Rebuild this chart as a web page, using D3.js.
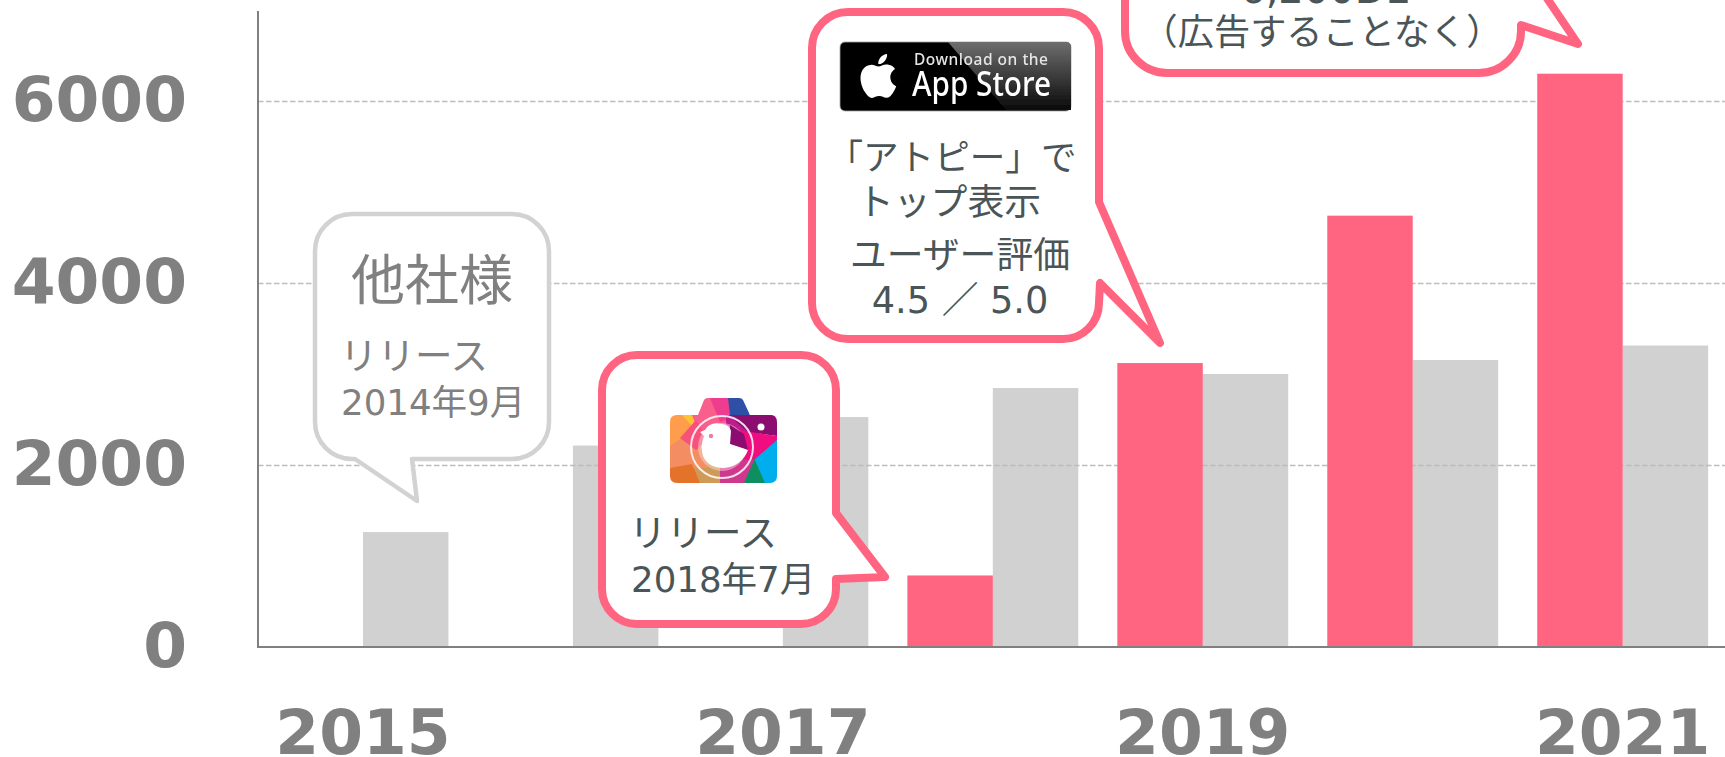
<!DOCTYPE html>
<html lang="ja">
<head>
<meta charset="UTF-8">
<title>Downloads</title>
<style>
  html, body { margin: 0; padding: 0; background: #fff; overflow: hidden; }
  svg { display: block; }
  text { font-family: "DejaVu Sans", "Noto Sans CJK JP", sans-serif; }
</style>
</head>
<body>
<div id="chart"></div>
<script src="https://d3js.org/d3.v7.min.js"></script>
<script>
// values
const years = ["2015", "2016", "2017", "2018", "2019", "2020", "2021"];
const ownValues = [null, null, null, 786, 3120, 4740, 6300];
const otherValues = [1263, 2214, 2527, 2846, 3000, 3154, 3313];
const yTicks = [0, 2000, 4000, 6000];
const xLabels = ["2015", "2017", "2019", "2021"];
const series = ["own", "other"];

const PINK = "#ff6480", GREY = "#d1d1d1", AXIS = "#808080", DARK = "#4a5558";
const width = 1725, height = 757;
const left = 258, base = 647;

const svg = d3.select("#chart").append("svg").attr("width", width).attr("height", height);
const defs = svg.append("defs");
defs.append("filter").attr("id", "soft").append("feGaussianBlur").attr("stdDeviation", 0.6);

const x = d3.scaleBand().domain(years).range([left, left + 7 * 209.95]).paddingInner(0.186).paddingOuter(0.093);
const sub = d3.scaleBand().domain(series).range([0, x.bandwidth()]);
const y = d3.scaleLinear().domain([0, 6000]).range([base, 101]);

// grey bars sit under the grid, pink bars on top of it
svg.append("g").selectAll("rect").data(otherValues).join("rect")
  .attr("x", (d, i) => x(years[i]) + sub("other"))
  .attr("y", d => y(d))
  .attr("width", sub.bandwidth())
  .attr("height", d => base - y(d))
  .attr("fill", GREY);

// grid
const grid = svg.append("g")
  .attr("transform", "translate(" + left + ",0)")
  .call(d3.axisRight(y).tickValues(yTicks.filter(d => d > 0)).tickSize(width - left).tickFormat(""));
grid.select(".domain").remove();
grid.selectAll("line")
  .attr("stroke", "#bdbdbd").attr("stroke-width", 1.4).attr("stroke-dasharray", "5.5 2.5");

svg.append("g").selectAll("rect").data(ownValues).join("rect")
  .attr("x", (d, i) => x(years[i]) + sub("own"))
  .attr("y", d => d === null ? base : y(d))
  .attr("width", sub.bandwidth())
  .attr("height", d => d === null ? 0 : base - y(d))
  .attr("fill", PINK);

// axes
const yAxis = svg.append("g")
  .attr("transform", "translate(" + left + ",0)")
  .call(d3.axisLeft(y).tickValues(yTicks).tickSize(0).tickPadding(71).tickFormat(d3.format("d")));
yAxis.select(".domain").remove();
yAxis.selectAll("text")
  .attr("dy", "19px")
  .attr("fill", AXIS)
  .style("font-size", "63px")
  .style("font-weight", "bold")
  .style("font-family", "'DejaVu Sans'");

const xAxis = svg.append("g")
  .attr("transform", "translate(0," + base + ")")
  .call(d3.axisBottom(x).tickValues(xLabels).tickSize(0).tickPadding(0));
xAxis.select(".domain").remove();
xAxis.selectAll("text")
  .attr("y", 107).attr("dy", 0)
  .attr("fill", AXIS)
  .style("font-size", "63px")
  .style("font-weight", "bold")
  .style("font-family", "'DejaVu Sans'");

svg.append("path")
  .attr("d", "M" + left + ",11V" + base + "H" + width)
  .attr("fill", "none").attr("stroke", AXIS).attr("stroke-width", 2);

// rounded box with a tail on its right or bottom side
function balloon(b) {
  const r = b.r;
  const p = d3.path();
  p.moveTo(b.x0 + r, b.y0);
  p.arcTo(b.x1, b.y0, b.x1, b.y0 + r, r);
  if (b.right) b.right.forEach(q => p.lineTo(q[0], q[1]));
  p.lineTo(b.x1, b.y1 - r);
  p.arcTo(b.x1, b.y1, b.x1 - r, b.y1, r);
  if (b.bottom) b.bottom.forEach(q => p.lineTo(q[0], q[1]));
  p.arcTo(b.x0, b.y1, b.x0, b.y1 - r, r);
  p.arcTo(b.x0, b.y0, b.x0 + r, b.y0, r);
  p.closePath();
  return p.toString();
}

function drawBalloon(b, color, w) {
  svg.append("path").attr("d", balloon(b))
    .attr("fill", "#fff").attr("stroke", color).attr("stroke-width", w).attr("stroke-linejoin", "round");
}

function label(str, px, py, size, color, anchor) {
  return svg.append("text").attr("x", px).attr("y", py).text(str)
    .attr("fill", color).attr("text-anchor", anchor || "start").style("font-size", size + "px");
}

// others
drawBalloon({ x0: 315, y0: 214, x1: 549, y1: 459, r: 37,
  bottom: [[412, 459], [417, 501], [355, 459]] }, "#d2d2d2", 4.5);
label("他社様", 432, 300, 54, AXIS, "middle");
label("リリース", 340, 369, 37.5, AXIS);
label("2014年9月", 341, 415, 35.6, AXIS);

// own release
drawBalloon({ x0: 602, y0: 355, x1: 836, y1: 624, r: 35,
  right: [[836, 513], [885, 577], [836, 579]] }, PINK, 8);
label("リリース", 629, 546, 37.5, DARK);
label("2018年7月", 631, 592, 35.6, DARK);

// camera icon
const cam = svg.append("g").attr("transform", "translate(670,398)").attr("filter", "url(#soft)");
const camShape = "M9,17H28L34,2Q35,0 38,0H69Q72,0 73,2L80,17H100Q107,17 107,24V78Q107,85 100,85H7Q0,85 0,78V24Q0,17 7,17Z";
defs.append("clipPath").attr("id", "camClip").append("path").attr("d", camShape);
const camG = cam.append("g").attr("clip-path", "url(#camClip)");
const facets = [
  ["#ff9d4d", "0,17 22,17 30,40 12,50 0,60"],
  ["#fbc531", "12,17 32,17 24,30"],
  ["#f85e8c", "22,17 30,0 56,0 62,28 34,48"],
  ["#ee3e8f", "40,0 62,0 62,20 50,24"],
  ["#2f4fa6", "58,0 74,0 80,17 60,17"],
  ["#c01c8e", "56,17 107,17 78,48 56,40"],
  ["#8c0f6f", "58,17 107,17 107,38 78,34"],
  ["#f0087f", "56,30 80,34 107,38 107,52 84,70 60,60"],
  ["#02aeee", "107,42 107,85 92,85 84,62"],
  ["#0d8f60", "84,60 95,85 60,85"],
  ["#d0388e", "50,60 84,62 74,85 44,85"],
  ["#cf9a58", "18,60 50,60 50,85 16,85"],
  ["#f58d63", "0,48 12,40 30,44 38,70 20,70 0,75"],
  ["#e5722c", "0,70 22,66 30,85 0,85"],
  ["#f7517b", "10,40 26,22 38,42 26,52"]
];
camG.selectAll("polygon").data(facets).join("polygon")
  .attr("points", d => d[1]).attr("fill", d => d[0]);
cam.append("circle").attr("cx", 52).attr("cy", 49).attr("r", 24).attr("fill", "#f5d9d9").attr("opacity", 0.5);
cam.append("polygon").attr("points", "60,27 74,36 78,52 60,46").attr("fill", "#8c0f6f");
cam.append("circle").attr("cx", 52).attr("cy", 49).attr("r", 31)
  .attr("fill", "none").attr("stroke", "#fff").attr("stroke-opacity", 0.85).attr("stroke-width", 2);
cam.append("path")
  .attr("d", "M34,38L30,34L35,32Q40,23 52,26Q60,27 61,33L60,46L78,52Q72,68 54,70Q38,70 33,58Q30,48 34,38Z")
  .attr("fill", "#fff");
cam.append("circle").attr("cx", 41).attr("cy", 38).attr("r", 2.2).attr("fill", "#e87fa0");
cam.append("circle").attr("cx", 91).attr("cy", 29).attr("r", 3.5).attr("fill", "#fff");

// app store
drawBalloon({ x0: 812, y0: 12, x1: 1099, y1: 339, r: 36,
  right: [[1099, 202], [1160, 343], [1100, 283]] }, PINK, 8);

const grad = defs.append("linearGradient").attr("id", "badgeShine")
  .attr("x1", "0").attr("y1", "0").attr("x2", "0").attr("y2", "1");
grad.append("stop").attr("offset", "0").attr("stop-color", "#6e6e6e");
grad.append("stop").attr("offset", "1").attr("stop-color", "#0a0a0a");

const badge = svg.append("g").attr("filter", "url(#soft)");
badge.append("rect").attr("x", 840).attr("y", 42).attr("width", 231).attr("height", 69).attr("rx", 5)
  .attr("fill", "#000").attr("stroke", "#a5a5a5").attr("stroke-width", 0.8);
badge.append("path").attr("d", "M948,42H1066Q1071,42 1071,47V110H1006Z").attr("fill", "url(#badgeShine)");
badge.append("path")
  .attr("transform", "translate(852,49.5) scale(2.2)")
  .attr("fill", "#fff")
  .attr("d", "M18.71 19.5c-.83 1.24-1.71 2.45-3.05 2.47-1.34.03-1.77-.79-3.29-.79-1.53 0-2 .77-3.27.82-1.31.05-2.3-1.32-3.14-2.53C4.25 17 2.94 12.45 4.7 9.39c.87-1.52 2.43-2.48 4.12-2.51 1.28-.02 2.5.87 3.29.87.78 0 2.26-1.07 3.81-.91.65.03 2.47.26 3.64 1.98-.09.06-2.17 1.28-2.15 3.81.03 3.02 2.65 4.03 2.68 4.04-.03.07-.42 1.44-1.38 2.83M13 3.5c.73-.83 1.94-1.46 2.94-1.5.13 1.17-.34 2.35-1.04 3.19-.69.85-1.83 1.51-2.95 1.42-.15-1.15.41-2.35 1.05-3.11z");
badge.append("text").attr("x", 914).attr("y", 65).text("Download on the")
  .attr("fill", "#e6e6e6").style("font-size", "15.5px").style("font-family", "'Noto Sans'")
  .style("font-weight", 500).attr("textLength", 134).attr("lengthAdjust", "spacing");
badge.append("text").attr("x", 912).attr("y", 96).text("App Store")
  .attr("fill", "#fff").style("font-size", "35px").style("font-family", "'Noto Sans'")
  .style("font-weight", 500).attr("textLength", 139).attr("lengthAdjust", "spacingAndGlyphs");

label("「アトピー」で", 952, 170, 35.6, DARK, "middle");
label("トップ表示", 949, 215, 36.8, DARK, "middle");
label("ユーザー評価", 960, 268, 36.8, DARK, "middle");
label("4.5 ／ 5.0", 960, 313, 36.7, DARK, "middle");

// top balloon, cut by the page edge
drawBalloon({ x0: 1125, y0: -120, x1: 1521, y1: 73, r: 42,
  right: [[1521, -40], [1578, 44], [1521, 25]] }, PINK, 8);
label("6,200DL", 1324, 3, 40, DARK, "middle");
label("（広告することなく）", 1322, 45, 36.2, DARK, "middle");
</script>
</body>
</html>
